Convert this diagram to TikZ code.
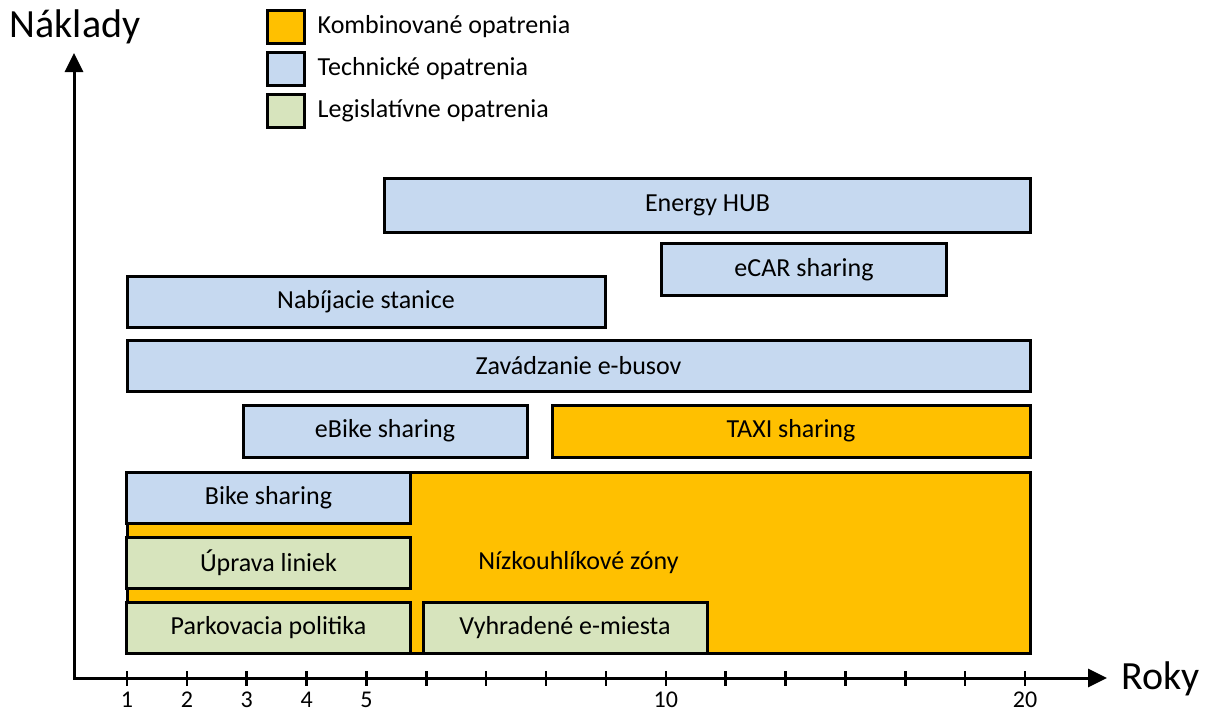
\documentclass[tikz,border=0pt]{standalone}
\usepackage{fontspec}
\setmainfont{Carlito}
\usepackage{xcolor}
\usetikzlibrary{arrows.meta,positioning}
\definecolor{kombcolor}{RGB}{255,192,0}
\definecolor{techcolor}{RGB}{198,217,240}
\definecolor{legiscolor}{RGB}{215,228,189}

\begin{document}
\begin{tikzpicture}[
    x=1pt, y=-1pt,
    every node/.style={font=\fontsize{26}{30}\selectfont},
    measure/.style={rectangle, draw=black, line width=3pt, inner sep=0pt, outer sep=0pt, text centered},
    komb/.style={measure, fill=kombcolor},
    tech/.style={measure, fill=techcolor},
    legis/.style={measure, fill=legiscolor},
    key/.style={rectangle, draw=black, line width=3pt, minimum width=37pt, minimum height=33pt, inner sep=0pt, outer sep=0pt},
    keytext/.style={inner sep=0pt, font=\fontsize{26}{30}\selectfont},
    axis/.style={line width=3pt, {Triangle[length=19pt,width=18pt]}-{Triangle[length=19pt,width=18pt]}},
    tickmark/.style={line width=2.5pt},
    ticklabel/.style={inner sep=0pt, font=\fontsize{24}{28}\selectfont},
    axislabel/.style={inner sep=0pt, font=\fontsize{40}{46}\selectfont}
]
\useasboundingbox (0,0) rectangle (1211,713);

% Axes
\coordinate (origin) at (74,678);
\coordinate (ytip) at (74,53);
\coordinate (xtip) at (1107,678);
\draw[axis] (ytip) -- (origin) -- (xtip);

\node[axislabel, anchor=base] (naklady) at (75,37) {Náklady};
\node[axislabel, anchor=base west] (roky) at (1121,689) {Roky};

% Year ticks
\foreach \i in {0,...,15}
    \draw[tickmark] (127+59.87*\i,671) -- (127+59.87*\i,686);
\foreach \i/\lab in {0/1,1/2,2/3,3/4,4/5,9/10,15/20}
    \node[ticklabel] (year\lab) at (127+59.87*\i,700) {\lab};

% Legend
\node[key, fill=kombcolor] (keykomb) at (286,26.5) {};
\node[keytext, right=13pt of keykomb] (keykombtext) {Kombinované opatrenia};

\node[key, fill=techcolor] (keytech) at (286,68.5) {};
\node[keytext, right=13pt of keytech] (keytechtext) {Technické opatrenia};

\node[key, fill=legiscolor] (keylegis) at (286,110.5) {};
\node[keytext, right=13pt of keylegis] (keylegistext) {Legislatívne opatrenia};

% Measures - upper rows
\node[tech, minimum width=646pt, minimum height=54pt] (energyhub) at (707.5,205) {Energy HUB};
\node[tech, minimum width=285pt, minimum height=52pt] (ecar) at (804,269.5) {eCAR sharing};
\node[tech, minimum width=478pt, minimum height=51pt] (nabijacie) at (366,301.5) {Nabíjacie stanice};
\node[tech, minimum width=903pt, minimum height=51pt] (ebusy) at (578.5,365.5) {Zavádzanie e-busov};
\node[tech, minimum width=284pt, minimum height=52pt] (ebike) at (385,431) {eBike sharing};
\node[komb, minimum width=478pt, minimum height=52pt] (taxi) at (791,431) {TAXI sharing};

% Low-carbon zone with the measures on top of it
\node[komb, minimum width=903pt, minimum height=181pt] (zony) at (578.5,562.5) {Nízkouhlíkové zóny};
\node[tech, minimum width=284pt, minimum height=51pt] (bike) at (268.5,497.5) {Bike sharing};
\node[legis, minimum width=284pt, minimum height=51pt] (uprava) at (268.5,562.5) {Úprava liniek};
\node[legis, minimum width=284pt, minimum height=51pt] (parkovacia) at (268.5,627.5) {Parkovacia politika};
\node[legis, minimum width=284pt, minimum height=51pt] (vyhradene) at (565,627.5) {Vyhradené e-miesta};

\end{tikzpicture}
\end{document}
